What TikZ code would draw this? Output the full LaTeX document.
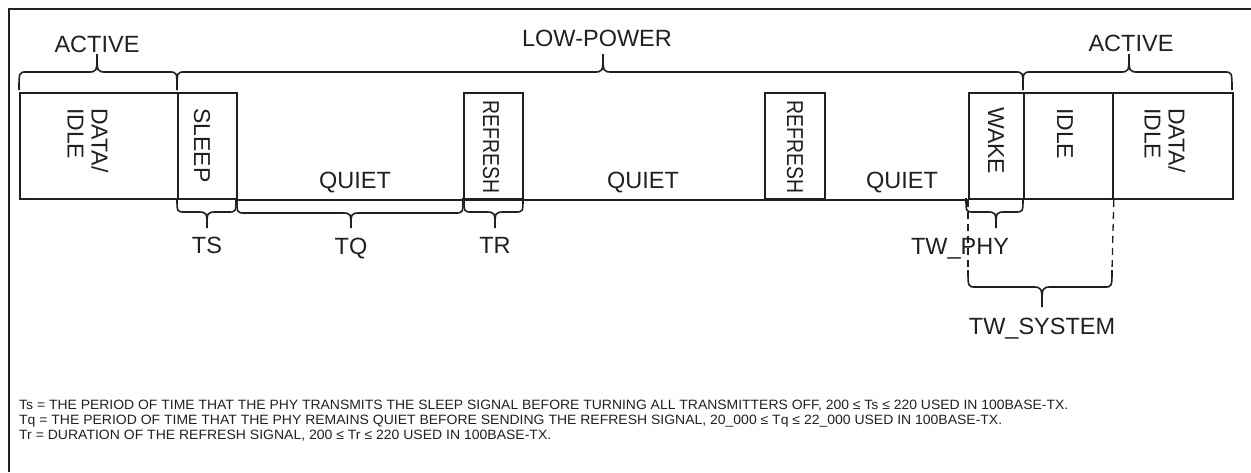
\documentclass[tikz,border=0pt]{standalone}
\usepackage{fontspec}
\setmainfont{Liberation Sans}
\usepackage{graphicx}
\definecolor{ink}{HTML}{231F20}
\newcommand\brc[6]{% x1, x2, xm, y0, d1, d2
  \draw[brcline] ({#1},{#4}) .. controls ({#1},{#4+(#5)}) .. ({#1+8},{#4+(#5)})
    -- ({#3-10},{#4+(#5)}) .. controls ({#3},{#4+(#5)}) .. ({#3},{#4+(#6)})
    .. controls ({#3},{#4+(#5)}) .. ({#3+10},{#4+(#5)})
    -- ({#2-8},{#4+(#5)}) .. controls ({#2},{#4+(#5)}) .. ({#2},{#4});}
\begin{document}
\begin{tikzpicture}[x=1pt,y=-1pt,
  box/.style={draw=ink, line width=1.8pt, inner sep=0pt, anchor=north west, minimum height=106pt},
  vlab/.style={rotate=-90, anchor=west, inner sep=0pt, font=\fontsize{23}{24}\selectfont, text=ink, align=left},
  lab/.style={anchor=base, inner sep=0pt, font=\fontsize{23.5}{24}\selectfont, text=ink},
  brcline/.style={draw=ink, line width=1.6pt},
  baseline/.style={draw=ink, line width=1.6pt},
  dsh/.style={draw=ink, line width=1.3pt, dash pattern=on 7pt off 5pt},
  note/.style={anchor=base west, inner sep=0pt, font=\fontsize{13.5}{13.5}\selectfont, text=ink}]
\useasboundingbox (0,0) rectangle (1251,472);
\draw[ink, line width=2.6pt] (9,472) -- (9,9) -- (1251,9);

% boxes
\node[box, minimum width=158pt] (dl) at (19,92) {};
\node[box, minimum width=59pt] (sleep) at (177,92) {};
\node[box, minimum width=59pt] (ref1) at (463,92) {};
\node[box, minimum width=60pt] (ref2) at (764,92) {};
\node[box, minimum width=55pt] (wake) at (968,92) {};
\node[box, minimum width=89pt] (idle) at (1023,92) {};
\node[box, minimum width=120pt] (dr) at (1112,92) {};

% baseline
\draw[baseline] (sleep.south east) -- (wake.south west);

% rotated labels
\node[vlab] (tdl) at (88,108) {DATA/\\IDLE};
\node[vlab] (tsleep) at (202,108) {SLEEP};
\node[vlab] (tref1) at (491,100) {\scalebox{0.845}[1]{REFRESH}};
\node[vlab] (tref2) at (795,100) {\scalebox{0.845}[1]{REFRESH}};
\node[vlab] (twake) at (996,107) {WAKE};
\node[vlab] (tidle) at (1065,108) {IDLE};
\node[vlab] (tdr) at (1165,108) {DATA/\\IDLE};

% horizontal labels
\node[lab] (act1) at (97,52) {ACTIVE};
\node[lab] (lowp) at (597,46) {LOW-POWER};
\node[lab] (act2) at (1131,51) {ACTIVE};
\node[lab] (q1) at (355,188) {QUIET};
\node[lab] (q2) at (643,188) {QUIET};
\node[lab] (q3) at (902,188) {QUIET};
\node[lab] (ts) at (207,253) {TS};
\node[lab] (tq) at (351,254) {TQ};
\node[lab] (tr) at (495,253) {TR};
\node[lab] (twp) at (960,254) {TW\_PHY};
\node[lab] (tws) at (1042,334) {TW\_SYSTEM};

% braces
\brc{19}{177}{97}{90}{-18}{-36}
\brc{177}{1023}{603}{90}{-18}{-36}
\brc{1023}{1232}{1129}{90}{-18}{-36}
\brc{177}{236}{207}{198}{14}{30}
\brc{237}{463}{351}{198}{15}{30}
\brc{464}{523}{495}{198}{14}{30}
\brc{966}{1023}{996}{198}{14}{30}
\brc{968}{1112}{1042}{270}{17}{37}

% dashed guides
\coordinate (sysL) at (968,270);
\coordinate (sysR) at (1112,270);
\draw[dsh] (wake.south west) -- (sysL);
\draw[dsh] (idle.south east) -- (sysR);

% notes
\node[note] (n1) at (19,409) {\resizebox{1049pt}{\height}{Ts = THE PERIOD OF TIME THAT THE PHY TRANSMITS THE SLEEP SIGNAL BEFORE TURNING ALL TRANSMITTERS OFF, 200 ≤ Ts ≤ 220 USED IN 100BASE-TX.}};
\node[note] (n2) at (19,424) {\resizebox{983pt}{\height}{Tq = THE PERIOD OF TIME THAT THE PHY REMAINS QUIET BEFORE SENDING THE REFRESH SIGNAL, 20\_000 ≤ Tq ≤ 22\_000 USED IN 100BASE-TX.}};
\node[note] (n3) at (19,439) {\resizebox{532pt}{\height}{Tr = DURATION OF THE REFRESH SIGNAL, 200 ≤ Tr ≤ 220 USED IN 100BASE-TX.}};
\end{tikzpicture}
\end{document}
